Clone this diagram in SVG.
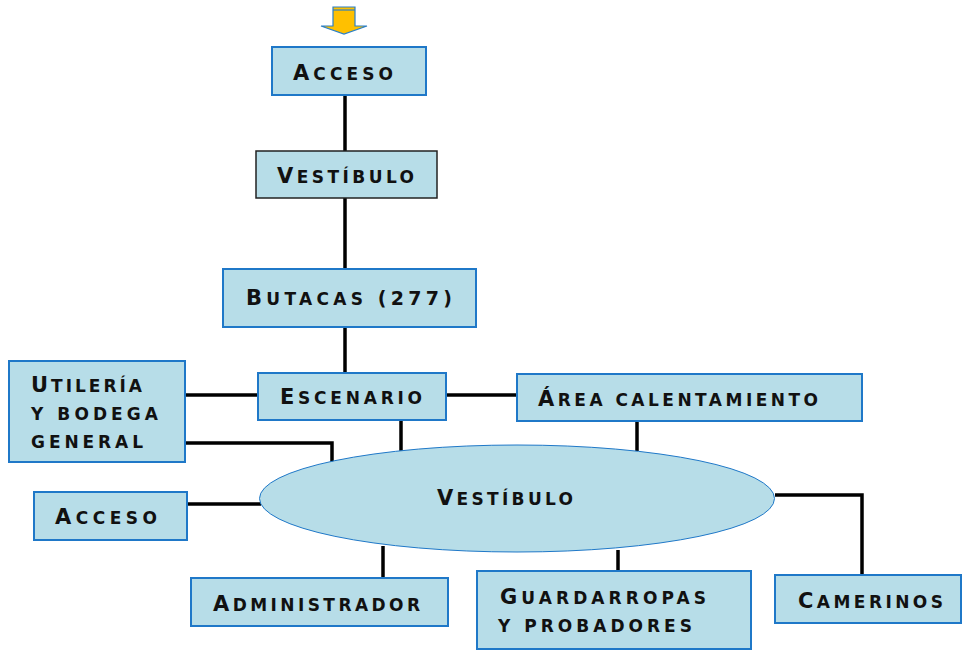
<svg xmlns="http://www.w3.org/2000/svg" width="962" height="650" viewBox="0 0 962 650">
<style>
.box{fill:#b7dde8;stroke:#1f78c8;stroke-width:2}
.boxk{fill:#b7dde8;stroke:#222;stroke-width:1.5}
.ell{fill:#b7dde8;stroke:#1f78c8;stroke-width:1}
.t{font-family:"DejaVu Sans",sans-serif;font-weight:bold;fill:#111;font-size:17px}
.b{font-size:21px}
.c line,.c polyline{stroke:#000;stroke-width:3.5;fill:none}
</style>
<rect width="962" height="650" fill="#fff"/>
<g id="arrow">
<path d="M333,7 H355 V26 H367 L344,34 L321,26 H333 Z" fill="#ffc000" stroke="#2a7fc7" stroke-width="1.2"/>
<line x1="333" y1="10" x2="355" y2="10" stroke="#2a7fc7" stroke-width="1.2"/>
</g>
<g class="c" id="connectors">
<line x1="345" y1="95" x2="345" y2="151"/>
<line x1="345" y1="198" x2="345" y2="269"/>
<line x1="345" y1="327" x2="345" y2="373"/>
<line x1="185" y1="395" x2="258" y2="395"/>
<line x1="446" y1="395" x2="517" y2="395"/>
<polyline points="185,443 332,443 332,463"/>
<line x1="401" y1="420" x2="401" y2="452"/>
<line x1="637" y1="421" x2="637" y2="451"/>
<line x1="187" y1="504" x2="261" y2="504"/>
<line x1="383" y1="546" x2="383" y2="578"/>
<line x1="618" y1="550" x2="618" y2="571"/>
<polyline points="775,495 862,495 862,575"/>
</g>
<g id="acceso-top">
<rect class="box" x="272" y="47" width="154" height="48"/>
<text class="t" x="293" y="80" textLength="100" lengthAdjust="spacing"><tspan class="b">A</tspan>CCESO</text>
</g>
<g id="vestibulo-top">
<rect class="boxk" x="256" y="151" width="181" height="47"/>
<text class="t" x="277" y="183" textLength="137" lengthAdjust="spacing"><tspan class="b">V</tspan>ESTÍBULO</text>
</g>
<g id="butacas">
<rect class="box" x="223" y="269" width="253" height="58"/>
<text class="t" x="246" y="305" textLength="206" lengthAdjust="spacing"><tspan class="b">B</tspan>UTACAS <tspan font-size="19">(277)</tspan></text>
</g>
<g id="utileria">
<rect class="box" x="9" y="361" width="176" height="101"/>
<text class="t" x="31" y="392" textLength="111" lengthAdjust="spacing"><tspan class="b">U</tspan>TILERÍA</text>
<text class="t" x="31" y="420" textLength="127" lengthAdjust="spacing">Y BODEGA</text>
<text class="t" x="31" y="448" textLength="112" lengthAdjust="spacing">GENERAL</text>
</g>
<g id="escenario">
<rect class="box" x="258" y="373" width="188" height="47"/>
<text class="t" x="280" y="404" textLength="142" lengthAdjust="spacing"><tspan class="b">E</tspan>SCENARIO</text>
</g>
<g id="area">
<rect class="box" x="517" y="374" width="345" height="47"/>
<text class="t" x="538" y="406" textLength="280" lengthAdjust="spacing"><tspan class="b">Á</tspan>REA CALENTAMIENTO</text>
</g>
<g id="vestibulo">
<ellipse class="ell" cx="517" cy="498.5" rx="257.5" ry="53.5"/>
<text class="t" x="437" y="505" textLength="136" lengthAdjust="spacing"><tspan class="b">V</tspan>ESTÍBULO</text>
</g>
<g id="acceso-left">
<rect class="box" x="34" y="492" width="153" height="48"/>
<text class="t" x="55" y="524" textLength="102" lengthAdjust="spacing"><tspan class="b">A</tspan>CCESO</text>
</g>
<g id="administrador">
<rect class="box" x="191" y="578" width="257" height="48"/>
<text class="t" x="213" y="611" textLength="207" lengthAdjust="spacing"><tspan class="b">A</tspan>DMINISTRADOR</text>
</g>
<g id="guardarropas">
<rect class="box" x="477" y="571" width="274" height="78"/>
<text class="t" x="500" y="604" textLength="206" lengthAdjust="spacing"><tspan class="b">G</tspan>UARDARROPAS</text>
<text class="t" x="498" y="632" textLength="194" lengthAdjust="spacing">Y PROBADORES</text>
</g>
<g id="camerinos">
<rect class="box" x="775" y="575" width="186" height="48"/>
<text class="t" x="798" y="608" textLength="145" lengthAdjust="spacing"><tspan class="b">C</tspan>AMERINOS</text>
</g>
</svg>
